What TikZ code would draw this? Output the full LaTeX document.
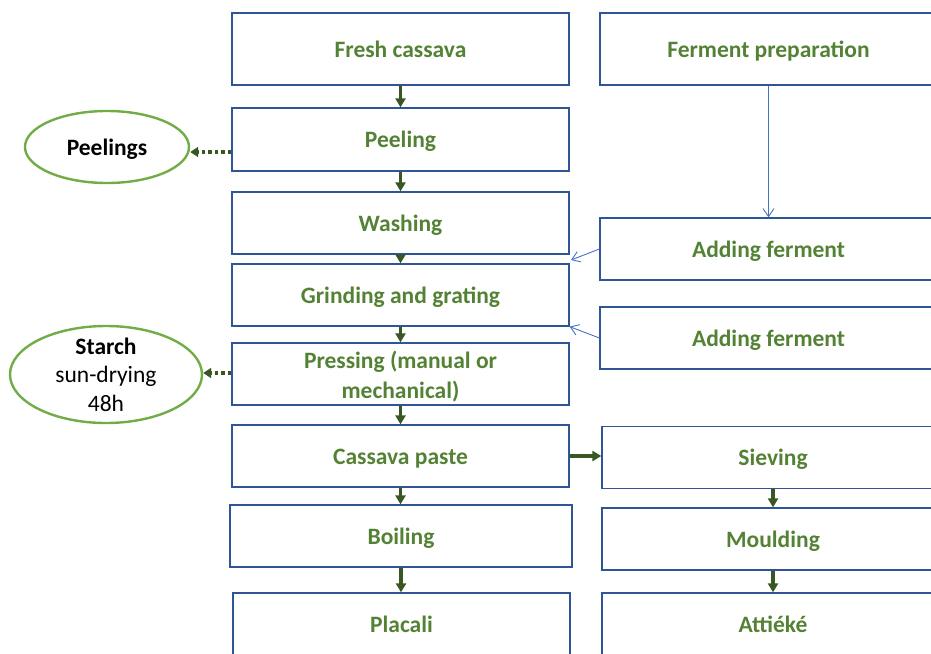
\documentclass[tikz,border=0pt]{standalone}
\usepackage{fontspec}
\setmainfont{Carlito}
\usetikzlibrary{arrows.meta,shapes.geometric}
\definecolor{boxblue}{HTML}{2F5597}
\definecolor{textgreen}{HTML}{548235}
\definecolor{ringgreen}{HTML}{70AD47}
\definecolor{arrowgreen}{HTML}{385723}
\definecolor{linkblue}{HTML}{4472C4}

\begin{document}
\begin{tikzpicture}[x=1pt,y=-1pt,
  stepbox/.style={draw=boxblue,line width=1.3pt,minimum width=337pt,minimum height=62pt,
    inner sep=0pt,font=\fontsize{23.5}{29.5}\selectfont\bfseries,text=textgreen,align=center,
    text height=21.5pt,text depth=4.7pt},
  byproduct/.style={ellipse,draw=ringgreen,line width=2.4pt,inner sep=0pt,
    font=\fontsize{23.5}{28.5}\selectfont,align=center},
  flow/.style={draw=arrowgreen,line width=3.2pt,-{Triangle[length=9pt,width=10pt]}},
  sideflow/.style={draw=arrowgreen,line width=3.5pt,dash pattern=on 3.5pt off 3pt,
    -{Triangle[length=8pt,width=10pt]}},
  fermflow/.style={draw=linkblue,line width=0.9pt,-{Straight Barb[length=8pt,width=11pt]}}]

\useasboundingbox (0,0) rectangle (931,653);

% main processing line
\node[stepbox,minimum height=72pt] (fresh) at (400.5,49) {Fresh cassava};
\node[stepbox,minimum height=63pt] (peel)  at (400.5,139.5) {Peeling};
\node[stepbox] (wash)  at (400.5,223) {Washing};
\node[stepbox] (grind) at (400.5,295) {Grinding and grating};
\node[stepbox,text height=,text depth=] (press) at (400.5,374)
  {\rule{0pt}{22.5pt}Pressing (manual or\\mechanical)};
\node[stepbox] (paste) at (400.5,456) {Cassava paste};
\node[stepbox,minimum width=342pt] (boil) at (401,536) {Boiling};
\node[stepbox] (placali) at (401.5,624) {Placali};

% ferment and attiéké line
\node[stepbox,minimum height=72pt] (fprep) at (768.5,49) {Ferment preparation};
\node[stepbox] (add1) at (768.5,249) {Adding ferment};
\node[stepbox] (add2) at (768.5,338) {Adding ferment};
\node[stepbox,minimum width=342pt] (sieve) at (773,457.5) {Sieving};
\node[stepbox,minimum width=342pt] (mould) at (773,539) {Moulding};
\node[stepbox,minimum width=342pt] (attieke) at (773,624) {Attiéké};

% by-products
\node[byproduct,minimum width=164pt,minimum height=72pt,text height=21.5pt,text depth=4.7pt]
  (peelings) at (107,147) {\bfseries Peelings};
\node[byproduct,minimum width=192pt,minimum height=97pt,inner ysep=-5pt] (starch) at (106,374.5)
  {\bfseries Starch\\sun-drying\\48h};

% main flow arrows
\draw[flow] (fresh) -- (peel);
\draw[flow] (peel) -- (wash);
\draw[flow] (wash) -- (grind);
\draw[flow] (grind) -- (press);
\draw[flow] (press) -- (paste);
\draw[flow] (paste.south) -- (paste.south |- boil.north);
\draw[flow] (boil.south) -- (boil.south |- placali.north);
\draw[flow] (paste.east) -- (paste.east -| sieve.west);
\draw[flow] (sieve) -- (mould);
\draw[flow] (mould) -- (attieke);

% by-product arrows, meeting the ellipses a little off their centre line
\coordinate (peelin) at ([yshift=-5pt]peelings.east);
\coordinate (starchin) at ([yshift=1.5pt]starch.east);
\draw[sideflow] (peel.west |- peelin) -- (peelin);
\draw[sideflow] (press.west |- starchin) -- (starchin);

% ferment additions
\coordinate (washin) at (571,260);
\draw[fermflow] (fprep) -- (add1);
\draw[fermflow] (add1.west) -- (washin);
\draw[fermflow] (add2.west) -- (grind.south east);
\end{tikzpicture}
\end{document}
